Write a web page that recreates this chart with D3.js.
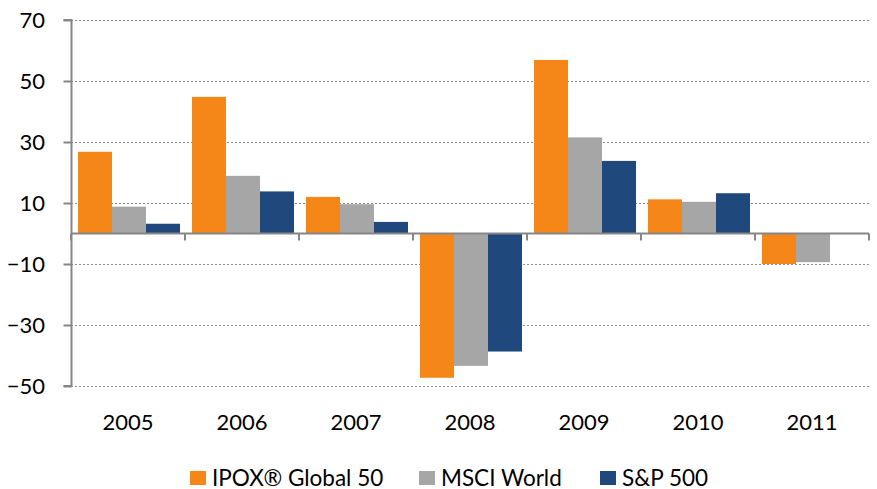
<!DOCTYPE html>
<html><head><meta charset="utf-8">
<script src="https://cdn.jsdelivr.net/npm/d3@7"></script>
<style>body{margin:0;background:#fff}svg{display:block}</style>
</head><body><svg id="c" width="877" height="489"></svg>
<script>
const years = ["2005","2006","2007","2008","2009","2010","2011"];
const seriesNames = ["IPOX® Global 50","MSCI World","S&P 500"];
const ipox = [26.8, 44.8, 12.0, -47.3, 56.9, 11.2, -10.0];
const msci = [8.8, 18.9, 9.6, -43.4, 31.5, 10.4, -9.4];
const sp500 = [3.2, 13.8, 3.8, -38.7, 23.8, 13.2, 0];
const yTicks = [-50, -30, -10, 10, 30, 50, 70];
const colors = ["#F58718", "#A6A6A6", "#1F497D"];

const series = [ipox, msci, sp500];
const svg = d3.select("#c");
const font = "Lato, 'Open Sans', sans-serif";
const x0 = d3.scaleBand().domain(years).range([71, 869]).paddingInner(0).paddingOuter(0);
const x1 = d3.scaleBand().domain(d3.range(3)).range([7, 109]).padding(0);
const y = d3.scaleLinear().domain([-50, 70]).range([386, 20]);

// gridlines
svg.append("g").selectAll("line").data(yTicks).join("line")
  .attr("x1", 71).attr("x2", 869)
  .attr("y1", d => Math.round(y(d)) + 0.5).attr("y2", d => Math.round(y(d)) + 0.5)
  .attr("stroke", "#8c8c8c").attr("stroke-width", 1).attr("stroke-dasharray", "2,2");

// bars
const g = svg.append("g");
years.forEach((yr, i) => {
  series.forEach((s, j) => {
    const v = s[i];
    if (v === 0) return;
    g.append("rect")
      .attr("x", x0(yr) + x1(j))
      .attr("width", x1.bandwidth())
      .attr("y", y(Math.max(0, v)))
      .attr("height", Math.abs(y(v) - y(0)))
      .attr("fill", colors[j]);
  });
});

// y axis
const yAxis = d3.axisLeft(y).tickValues(yTicks).tickSize(8).tickPadding(18.5).tickFormat(d3.format("d"));
const ya = svg.append("g").attr("transform", "translate(71.5,0)").call(yAxis);
ya.select(".domain").attr("stroke", "#868686").attr("stroke-width", 2).attr("d", `M-8,${y(70)}H0V${y(-50)}H-8`);
ya.selectAll(".tick line").attr("stroke", "#868686").attr("stroke-width", 2);
ya.selectAll(".tick text").attr("font-family", font).attr("font-size", 22).attr("fill", "#000");

// x axis at zero
const xa = svg.append("g").attr("transform", `translate(0,${y(0)})`)
  .call(d3.axisBottom(x0).tickSize(0).tickFormat(""));
xa.select(".domain").attr("stroke", "#868686").attr("stroke-width", 2).attr("d", `M71,0H869`);
const bounds = years.map(yr => x0(yr)).concat([869]);
xa.selectAll(".bt").data(bounds).join("line").attr("class","bt")
  .attr("x1", d => d).attr("x2", d => d).attr("y1", 0).attr("y2", 7)
  .attr("stroke", "#868686").attr("stroke-width", 2);

// year labels
svg.append("g").selectAll("text").data(years).join("text")
  .attr("x", d => x0(d) + x0.bandwidth() / 2).attr("y", 429.5)
  .attr("text-anchor", "middle")
  .attr("font-family", font).attr("font-size", 22).attr("fill", "#000").text(d => d);

// legend
const legX = [190, 419, 600];
const leg = svg.append("g");
seriesNames.forEach((n, j) => {
  leg.append("rect").attr("x", legX[j]).attr("y", 471).attr("width", 16).attr("height", 14).attr("fill", colors[j]);
  leg.append("text").attr("x", legX[j] + 22).attr("y", 485.5)
    .attr("font-family", font).attr("font-size", 22.5).attr("fill", "#000").text(n);
});
</script></body></html>
